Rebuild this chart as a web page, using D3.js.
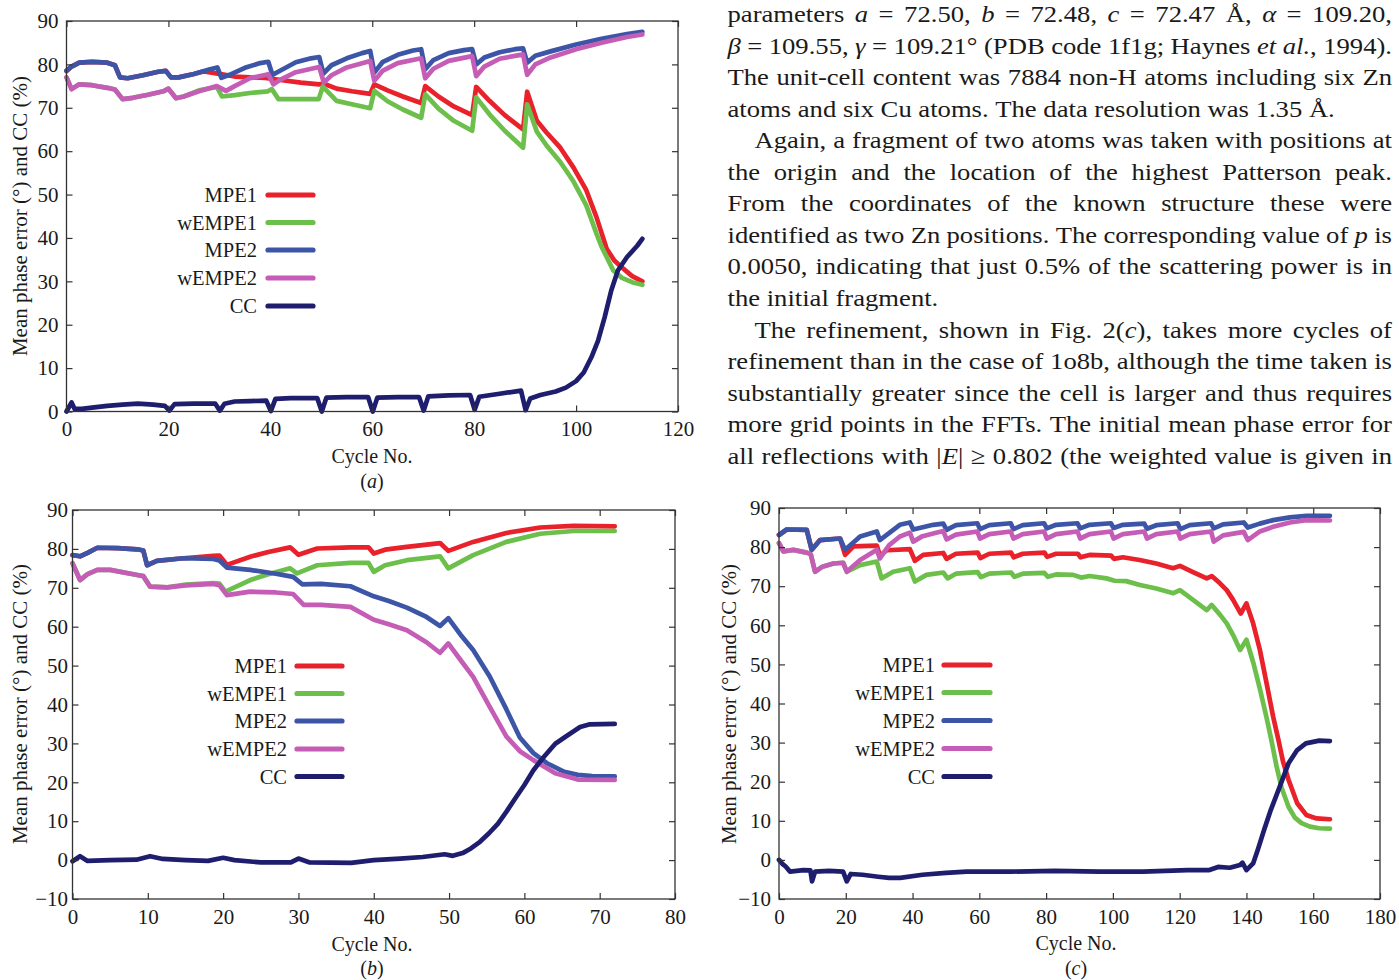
<!DOCTYPE html>
<html>
<head>
<meta charset="utf-8">
<script src="https://cdn.jsdelivr.net/npm/d3@7"></script>
<style>
html, body { margin: 0; padding: 0; background: #fff; }
svg { display: block; font-family: "Liberation Serif", "Times New Roman", serif; }
</style>
</head>
<body>
<svg id="fig" width="1399" height="980"></svg>
<script>
// series order in every panel: MPE1, wEMPE1, MPE2, wEMPE2, CC
const series_names = ["MPE1", "wEMPE1", "MPE2", "wEMPE2", "CC"];
const series_colors = ["#e8212b", "#6dbf4b", "#3d55a7", "#c55db7", "#1f1e6e"];

// panel (a)  [cycle, value]
const a_xticks = [0, 20, 40, 60, 80, 100, 120];
const a_yticks = [0, 10, 20, 30, 40, 50, 60, 70, 80, 90];

const a_mpe1 = [[0,78.5],[1,79.5],[2.5,80.4],[5,80.6],[8,80.4],[9.5,79.8],[10.5,77.0],[12,76.8],[15,77.5],[18,78.3],[19.5,78.5],[20.5,77.0],[22,77.0],[25,77.8],[27,78.4],[30,77.8],[33,77.2],[36,77.0],[39,76.9],[42,76.4],[46,75.8],[49.6,75.4],[50.4,75.6],[53,74.4],[56,73.8],[59.6,73.2],[60.4,75.4],[63,74.0],[66,72.6],[69.6,71.1],[70.4,75.0],[73,72.6],[76,70.3],[79.6,68.3],[80.4,74.8],[83,71.6],[86,68.3],[89.6,65.0],[90.4,73.7],[92.3,67.0],[94.2,64.3],[96.9,60.8],[99.5,56.2],[102,51.0],[104,44.8],[106,37.5],[107.5,34.8],[109,33.2],[111,31.2],[113,30.0]];
const a_wempe1 = [[0,77.0],[1,74.3],[2.5,75.4],[5,75.2],[8,74.6],[9.5,74.2],[11,72.0],[13,72.3],[16,73.0],[19,73.8],[20,74.4],[21.5,72.2],[23,72.6],[26,74.0],[29.5,74.8],[30.5,72.6],[33,72.9],[36,73.4],[39.5,73.8],[40.3,74.3],[41.6,72.0],[45,72.0],[49.5,72.0],[50.3,74.9],[53,71.6],[56,70.8],[59.6,69.9],[60.4,73.9],[63,71.5],[66,69.6],[69.6,67.7],[70.4,73.1],[73,69.8],[76,67.0],[79.6,64.7],[80.4,72.4],[83,68.5],[86,64.7],[89.6,60.8],[90.4,70.8],[92.3,64.5],[94.2,61.3],[96.9,57.5],[99.5,53.0],[102,47.5],[104,41.0],[105,38.0],[107.3,32.5],[109,30.8],[111,29.8],[113,29.2]];
const a_mpe2 = [[0,78.5],[1,79.5],[2.5,80.4],[5,80.6],[8,80.4],[9.5,79.8],[10.5,77.0],[12,76.8],[15,77.5],[18,78.3],[19.5,78.5],[20.5,77.0],[22,77.0],[25,77.8],[28,78.8],[29.6,79.3],[30.4,76.9],[32,77.6],[35,79.2],[38,80.3],[39.6,80.6],[40.4,77.6],[42,78.6],[45,80.5],[48,81.4],[49.6,81.7],[50.4,77.9],[52,79.8],[55,81.4],[58,82.6],[59.6,83.1],[60.4,78.1],[62,80.5],[65,82.2],[68,83.2],[69.6,83.5],[70.4,78.9],[72,81.0],[75,82.6],[78,83.3],[79.6,83.5],[80.4,80.0],[82,81.6],[85,82.8],[88,83.5],[89.6,83.7],[90.4,80.4],[92,82.0],[95,83.0],[100,84.6],[105,85.9],[110,87.0],[113,87.5]];
const a_wempe2 = [[0,77.0],[1,74.3],[2.5,75.4],[5,75.2],[8,74.6],[9.5,74.2],[11,72.0],[13,72.3],[16,73.0],[19,73.8],[20,74.4],[21.5,72.2],[23,72.6],[26,73.8],[29.5,75.0],[31.3,73.9],[33,75.0],[36,76.8],[39.6,77.7],[40.6,75.4],[42,76.5],[45,78.2],[49.6,79.4],[50.5,75.8],[52,77.5],[55,79.3],[59.6,80.8],[60.4,76.2],[62,78.5],[65,80.3],[69.6,81.4],[70.4,76.8],[72,79.0],[75,80.8],[79.6,81.9],[80.4,77.3],[82,79.5],[85,81.3],[89.6,82.3],[90.4,77.6],[92,80.0],[95,81.6],[100,83.5],[105,85.0],[110,86.3],[113,86.9]];
const a_cc = [[0,0],[1,2.1],[1.6,0.6],[3,0.6],[5,0.9],[8,1.3],[11,1.6],[14,1.8],[17,1.6],[19.3,1.3],[20.2,0.2],[21.2,1.7],[25,1.8],[29.2,1.8],[30.1,0.2],[31,1.8],[33,2.3],[36,2.4],[39.2,2.5],[40.1,0.1],[41,2.9],[44,3.1],[49.2,3.1],[50.1,0],[51,3.2],[55,3.3],[59.2,3.3],[60.1,0],[61,3.2],[65,3.3],[69.2,3.3],[70.1,0.2],[71,3.5],[75,3.7],[79.2,3.8],[80.1,0.4],[81,3.4],[85,4.1],[89.2,4.8],[90.1,0.3],[91,3.0],[93,3.8],[96,4.6],[98,5.5],[100,7.0],[101.5,9.0],[103,12.5],[104.3,16.3],[105.6,21.7],[106.9,27.9],[108.2,32.5],[110,35.6],[112,38.2],[113,39.8]];

// panel (b)
const b_xticks = [0, 10, 20, 30, 40, 50, 60, 70, 80];
const b_yticks = [-10, 0, 10, 20, 30, 40, 50, 60, 70, 80, 90];

const b_mpe1 = [[0,78.4],[1,78.1],[2,79.0],[3.3,80.3],[6,80.2],[8.6,79.9],[9.4,79.6],[9.9,75.8],[11.2,76.9],[14.7,77.6],[18.7,78.2],[19.5,78.3],[20.5,75.9],[23.6,78.0],[26,79.2],[28.9,80.4],[30,78.5],[32.5,80.1],[36.9,80.4],[39.3,80.4],[40,78.8],[41.5,79.8],[44.4,80.5],[48.8,81.5],[49.9,79.5],[53.2,81.8],[57.6,84.1],[62.1,85.5],[66.5,85.9],[72,85.8]];
const b_wempe1 = [[0,76.3],[1,72.0],[2,73.5],[3.3,74.6],[5,74.6],[8.6,73.3],[9.4,73.0],[10.3,70.3],[12.6,70.1],[15,70.8],[18.7,71.2],[19.5,71.1],[20.3,69.0],[23.6,72.0],[26,73.5],[28.9,75.0],[29.8,73.7],[32.5,75.8],[36.9,76.4],[39.3,76.4],[40,74.1],[41.5,75.8],[44.4,77.1],[48.8,78.1],[49.9,75.0],[53.2,78.4],[57.6,81.8],[62.1,83.9],[66.5,84.6],[72,84.6]];
const b_mpe2 = [[0,78.4],[1,78.1],[2,79.0],[3.3,80.3],[6,80.2],[8.6,79.9],[9.4,79.6],[9.9,75.8],[11.2,76.9],[14.7,77.6],[18.7,77.4],[19.5,77.0],[20.5,75.2],[23.6,74.6],[27,73.6],[29.3,72.8],[30.5,70.9],[33,71.0],[36.9,70.4],[40,67.8],[42,66.6],[44.4,64.9],[47,62.5],[48.8,60.2],[49.9,62.2],[51.5,58.0],[53.2,54.0],[55.4,47.2],[57.6,38.8],[59.4,31.5],[61.2,27.5],[63,24.9],[65.3,22.7],[67.1,21.9],[69,21.6],[72,21.5]];
const b_wempe2 = [[0,76.3],[1,72.0],[2,73.5],[3.3,74.6],[5,74.6],[8.6,73.3],[9.4,73.0],[10.3,70.3],[12.6,70.1],[15,70.6],[18.7,71.0],[19.5,70.7],[20.5,68.1],[23.6,69.0],[27,68.8],[29.3,68.4],[30.7,65.6],[33,65.6],[36.9,65.1],[40,61.8],[42,60.6],[44.4,59.1],[47,56.0],[48.8,53.3],[49.9,55.7],[51.5,51.5],[53.2,47.1],[55.4,39.4],[57.6,31.8],[59.4,28.0],[61.2,25.7],[64.1,22.3],[67.1,20.7],[72,20.6]];
const b_cc = [[0,-0.3],[1,1.0],[2,-0.2],[5,0],[8.5,0.1],[10.3,1.0],[12,0.3],[15,0],[18,-0.2],[20,0.6],[21.5,0],[25,-0.6],[29,-0.6],[30,0.4],[31.5,-0.6],[37,-0.7],[40,0],[43.5,0.4],[46.5,0.8],[49.4,1.5],[50.5,1.1],[51.8,1.8],[52.9,3.0],[54.1,4.7],[55.3,6.9],[56.5,9.4],[57.6,12.4],[58.8,15.9],[60,19.3],[61.2,23.1],[62.4,26.1],[64.1,29.9],[65.9,32.3],[67.4,34.2],[68.7,34.9],[72,35.0]];

// panel (c)
const c_xticks = [0, 20, 40, 60, 80, 100, 120, 140, 160, 180];
const c_yticks = [-10, 0, 10, 20, 30, 40, 50, 60, 70, 80, 90];

const c_mpe1 = [[0,83.1],[2.3,84.5],[8.3,84.4],[9.8,79.3],[12.3,81.8],[18.3,82.2],[19.8,78.0],[22.3,80.2],[29.3,80.4],[30.2,77.8],[32.3,79.2],[39.2,79.5],[40.7,76.5],[43.2,78.0],[49.2,78.5],[50.2,77.0],[53,78.3],[59.5,78.6],[60.3,77.2],[63,78.3],[69.5,78.6],[70.3,77.4],[73,78.3],[79.5,78.6],[80.3,77.5],[83,78.3],[89.5,78.3],[90.3,77.4],[93,78.0],[99.5,77.8],[100.3,77.0],[103,77.4],[108,76.7],[113,75.8],[118,74.6],[120.1,75.2],[124,73.6],[128.1,72.0],[129.6,72.6],[132,70.8],[134.1,69.0],[136,66.5],[138.3,63.0],[140,65.6],[142,60.5],[144,53.8],[146,45.3],[148,36.6],[149.5,31.0],[151,25.0],[152.6,20.5],[155.2,14.5],[157.9,11.5],[161,10.6],[165,10.4]];
const c_wempe1 = [[0,81.0],[1.3,78.9],[4.3,79.3],[8.3,78.6],[9.5,78.2],[10.8,73.7],[13,75.0],[16.3,75.8],[19.2,76.0],[20.3,73.7],[24.3,75.4],[29.3,76.3],[30.7,72.0],[34.2,73.7],[39.2,74.6],[40.7,71.2],[44.2,72.9],[49.2,73.5],[50.5,72.0],[53,73.2],[59.5,73.6],[60.5,72.3],[63,73.2],[69.5,73.5],[70.5,72.4],[73,73.2],[79.5,73.4],[80.5,72.4],[83,73.0],[88.1,72.9],[90.5,72.2],[93,72.6],[98.1,72.0],[100.5,71.4],[104,71.3],[108.1,70.3],[113,69.4],[118.1,68.2],[120.1,69.0],[124,66.5],[128.1,63.9],[129.6,65.2],[132,62.8],[134.1,60.5],[136,57.5],[138.1,53.7],[140,56.3],[142.1,50.3],[144.1,43.5],[146,36.5],[147.5,30.5],[149,24.0],[150.5,18.5],[152.6,13.6],[154.5,10.8],[156.5,9.4],[159,8.5],[161.8,8.1],[165,8.0]];
const c_mpe2 = [[0,83.1],[2.3,84.5],[8.3,84.4],[9.8,79.3],[12.3,81.8],[18.3,82.2],[19.8,79.3],[24.3,82.7],[29.3,84.0],[30.2,81.8],[36.2,85.7],[39.2,86.3],[40.2,84.5],[46.2,85.7],[49.2,86.0],[50.2,84.4],[53,85.6],[59.4,86.1],[60.2,84.6],[63,85.6],[69.4,86.1],[70.2,84.6],[73,85.6],[79.4,86.1],[80.2,84.8],[83,85.7],[89.4,86.1],[90.2,84.8],[93,85.7],[99.4,86.1],[100.2,84.9],[103,85.7],[109.4,86.0],[110.2,84.7],[113,85.6],[119.4,86.1],[120.2,84.6],[123,85.6],[129.4,86.1],[130.2,84.8],[133,85.8],[139.2,86.3],[140.4,85.0],[144,86.0],[148,86.9],[153,87.6],[158,88.0],[165,88.0]];
const c_wempe2 = [[0,81.0],[1.3,78.9],[4.3,79.3],[8.3,78.6],[9.5,78.2],[10.8,73.7],[13,75.0],[16.3,75.8],[19.2,76.0],[20.3,73.7],[24.3,76.7],[29.3,79.3],[30.2,77.1],[33,80.5],[36.2,82.7],[39.2,83.7],[40.2,81.4],[43,82.8],[46.2,83.5],[49.2,84.1],[50.2,82.0],[53,83.2],[59.4,84.0],[60.2,82.2],[63,83.3],[69.4,84.0],[70.2,82.2],[73,83.3],[79.4,84.0],[80.2,82.2],[83,83.3],[89.4,84.0],[90.2,82.2],[93,83.3],[99.4,84.0],[100.2,82.2],[103,83.3],[109.4,84.0],[110.2,82.2],[113,83.3],[119.4,84.0],[120.2,82.2],[123,83.3],[129.4,84.0],[130.2,81.4],[133,83.0],[139.2,83.9],[140.4,81.8],[144,84.0],[148,85.2],[153,86.3],[158,86.9],[165,86.8]];
const c_cc = [[0,0],[1,-1.0],[2,-1.7],[3.3,-3.0],[7.3,-2.6],[9.4,-2.7],[9.9,-5.5],[10.8,-3.0],[15,-2.8],[19.2,-3.0],[20.3,-5.5],[21.5,-3.6],[25,-3.8],[29.7,-4.3],[33,-4.6],[36.3,-4.6],[43,-3.8],[50,-3.3],[56.2,-3.0],[69.5,-3.0],[82.7,-2.8],[95.9,-3.0],[109.1,-3.0],[122.3,-2.6],[128.9,-2.6],[131.5,-1.8],[135,-2.0],[138.1,-1.3],[138.8,-0.7],[140,-2.6],[142,-0.9],[143.4,2.6],[145.3,7.7],[147.3,12.8],[150,18.8],[152.6,24.7],[155.2,28.1],[157.8,29.8],[161.8,30.5],[165,30.4]];

// body text beside the figure, _x_ marks italic
const text_lines = [
  "parameters _a_ = 72.50, _b_ = 72.48, _c_ = 72.47 Å, _α_ = 109.20,",
  "_β_ = 109.55, _γ_ = 109.21° (PDB code 1f1g; Haynes _et al._, 1994).",
  "The unit-cell content was 7884 non-H atoms including six Zn",
  "atoms and six Cu atoms. The data resolution was 1.35 Å.",
  "Again, a fragment of two atoms was taken with positions at",
  "the origin and the location of the highest Patterson peak.",
  "From the coordinates of the known structure these were",
  "identified as two Zn positions. The corresponding value of _p_ is",
  "0.0050, indicating that just 0.5% of the scattering power is in",
  "the initial fragment.",
  "The refinement, shown in Fig. 2(_c_), takes more cycles of",
  "refinement than in the case of 1o8b, although the time taken is",
  "substantially greater since the cell is larger and thus requires",
  "more grid points in the FFTs. The initial mean phase error for",
  "all reflections with |_E_| ≥ 0.802 (the weighted value is given in"
];
const text_justify = [1, 1, 1, 0, 1, 1, 1, 1, 1, 0, 1, 1, 1, 1, 1];
const text_indent = [0, 0, 0, 0, 1, 0, 0, 0, 0, 0, 1, 0, 0, 0, 0];

const ytitle = "Mean phase error (°) and CC (%)";

function fig_panel(svg, o) {
  const x = d3.scaleLinear().domain(o.xdomain).range([o.left, o.right]);
  const y = d3.scaleLinear().domain(o.ydomain).range([o.bottom, o.top]);
  const g = svg.append('g');

  const line = d3.line()
        .x(d => x(d[0]))
        .y(d => y(d[1]));

  o.series.forEach((s, i) => {
    g.append('path')
      .attr('d', line(s))
      .attr('fill', "none")
      .attr('stroke', series_colors[i])
      .attr('stroke-width', 4.7)
      .attr('stroke-linejoin', "round")
      .attr('stroke-linecap', "round");
  });

  g.append('rect')
    .attr('x', o.left).attr('y', o.top)
    .attr('width', o.right - o.left).attr('height', o.bottom - o.top)
    .attr('fill', "none").attr('stroke', "#333").attr('stroke-width', 1.3);

  const axes = [
    [d3.axisBottom(x).tickValues(o.xticks).tickPadding(o.xpad), `translate(0,${o.bottom})`],
    [d3.axisLeft(y).tickValues(o.yticks).tickPadding(o.ypad), `translate(${o.left},0)`],
    [d3.axisTop(x).tickValues(o.xticks).tickFormat(''), `translate(0,${o.top})`],
    [d3.axisRight(y).tickValues(o.yticks).tickFormat(''), `translate(${o.right},0)`],
  ];

  axes.forEach(([ax, tr]) => {
    const a = g.append('g')
          .attr('transform', tr)
          .call(ax.tickSize(-6))
          .attr('font-family', null)
          .attr('font-size', 21);
    a.select('.domain').remove();
    a.selectAll('.tick line').attr('stroke', "#333").attr('stroke-width', 1.2);
    a.selectAll('.tick text').attr('fill', "#1a1a1a");
  });

  // legend
  series_names.forEach((n, i) => {
    const ly = o.legend.ys[i];
    g.append('text')
      .attr('x', o.legend.tx).attr('y', ly)
      .attr('dy', "0.35em")
      .attr('text-anchor', "end")
      .attr('font-size', 20.5)
      .attr('fill', "#1a1a1a")
      .text(n);
    g.append('line')
      .attr('x1', o.legend.x0).attr('x2', o.legend.x1)
      .attr('y1', ly).attr('y2', ly)
      .attr('stroke', series_colors[i])
      .attr('stroke-width', 5.2)
      .attr('stroke-linecap', "round");
  });

  g.append('text')
    .attr('transform', `translate(${o.ytitle[0]},${o.ytitle[1]}) rotate(-90)`)
    .attr('text-anchor', "middle")
    .attr('font-size', 21)
    .attr('fill', "#1a1a1a")
    .text(ytitle);

  g.append('text')
    .attr('x', o.xtitle[0]).attr('y', o.xtitle[1])
    .attr('text-anchor', "middle")
    .attr('font-size', 20)
    .attr('fill', "#1a1a1a")
    .text("Cycle No.");

  const tag = g.append('text')
        .attr('x', o.xtitle[0]).attr('y', o.tag_y)
        .attr('text-anchor', "middle")
        .attr('font-size', 20)
        .attr('fill', "#1a1a1a");
  tag.append('tspan').text("(");
  tag.append('tspan').attr('font-style', "italic").text(o.tag);
  tag.append('tspan').text(")");

  return g;
}

function parse_words(s) {
  const words = [];
  let cur = [], seg = '', it = false;
  const flush = () => { if (seg) cur.push({ t: seg, it: it }); seg = ''; };

  for (const ch of s) {
    if (ch === '_') { flush(); it = !it; }
    else if (ch === ' ') { flush(); if (cur.length) words.push(cur); cur = []; }
    else seg += ch;
  }
  flush();
  if (cur.length) words.push(cur);

  return words;
}

function fig_text(svg) {
  const k = 1.11, x0 = 727.5, w = 664.5, fs = 24;

  text_lines.forEach((str, i) => {
    const words = parse_words(str);
    const ind = text_indent[i] ? 27 : 0;
    const g = svg.append('g')
          .attr('transform', `translate(${x0 + ind},${22 + i * 31.55}) scale(${k},1)`)
          .attr('font-size', fs)
          .attr('fill', "#1a1a1a");

    const nodes = words.map(wd => {
      const t = g.append('text');
      wd.forEach(s => t.append('tspan')
                 .attr('font-style', s.it ? "italic" : null)
                 .text(s.t));
      return t;
    });

    const lens = nodes.map(n => n.node().getComputedTextLength());
    const total = d3.sum(lens);
    const gap = (text_justify[i] && nodes.length > 1) ?
          ((w - ind) / k - total) / (nodes.length - 1) :
          fs * 0.25;

    let cx = 0;
    nodes.forEach((n, j) => {
      n.attr('x', cx);
      cx += lens[j] + gap;
    });
  });
}

const svg = d3.select('#fig');

svg.append('rect').attr('width', 1399).attr('height', 980).attr('fill', "#fff");

fig_panel(svg, {
  left: 66.5, right: 678, top: 21, bottom: 411.5,
  xdomain: [0, 120], ydomain: [0, 90],
  xticks: a_xticks, yticks: a_yticks, xpad: 10, ypad: 8,
  series: [a_mpe1, a_wempe1, a_mpe2, a_wempe2, a_cc],
  legend: { tx: 257, x0: 268, x1: 313, ys: [195, 222.5, 250, 278, 306] },
  ytitle: [27, 216], xtitle: [372, 463], tag_y: 488, tag: "a",
});

fig_panel(svg, {
  left: 72.5, right: 675, top: 510, bottom: 899,
  xdomain: [0, 80], ydomain: [-10, 90],
  xticks: b_xticks, yticks: b_yticks, xpad: 10, ypad: 4.5,
  series: [b_mpe1, b_wempe1, b_mpe2, b_wempe2, b_cc],
  legend: { tx: 287, x0: 297, x1: 342, ys: [666, 693.5, 721, 749, 776.5] },
  ytitle: [27, 704], xtitle: [372, 951], tag_y: 975, tag: "b",
});

fig_panel(svg, {
  left: 779, right: 1380, top: 508, bottom: 899,
  xdomain: [0, 180], ydomain: [-10, 90],
  xticks: c_xticks, yticks: c_yticks, xpad: 10, ypad: 8,
  series: [c_mpe1, c_wempe1, c_mpe2, c_wempe2, c_cc],
  legend: { tx: 935, x0: 944, x1: 990, ys: [665, 692.5, 720.5, 748.5, 776.5] },
  ytitle: [736, 704], xtitle: [1076, 950], tag_y: 975, tag: "c",
});

fig_text(svg);
</script>
</body>
</html>
